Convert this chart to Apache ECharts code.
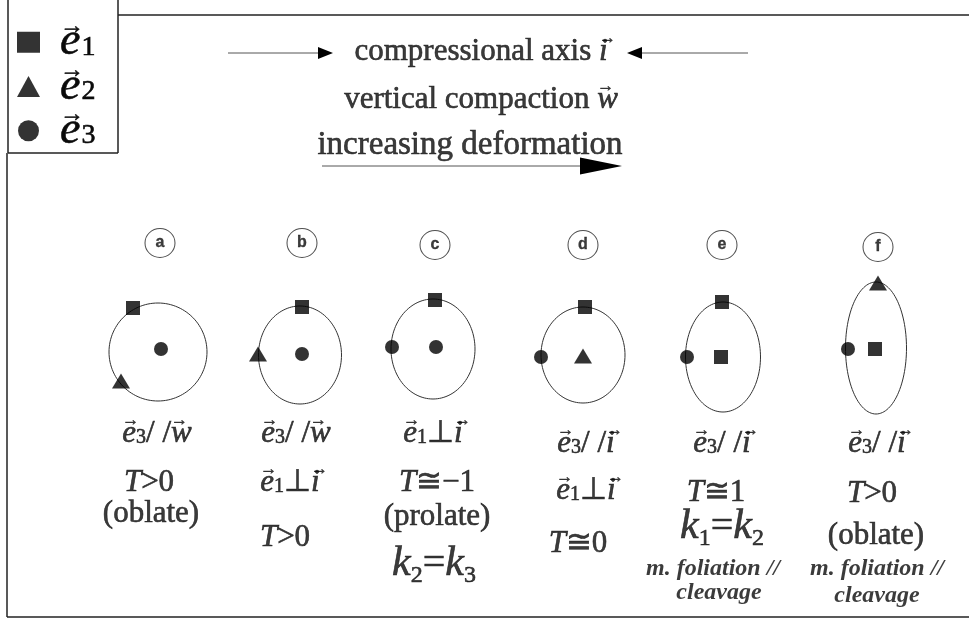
<!DOCTYPE html>
<html><head><meta charset="utf-8">
<script src="https://cdn.jsdelivr.net/npm/echarts@6/dist/echarts.min.js"></script>
<style>html,body{margin:0;padding:0;background:#fff}#main{width:969px;height:622px}</style>
</head><body><div id="main"></div>
<script>
// ---- data (diagram coordinates, origin top-left) ----
const panelLetters = ['a','b','c','d','e','f'];
const letterX = [160,302,435,583,722,878];
const letterY = [243,243,245,245,245,247];

const ellipseCX = [158,300,433,583,723,876];
const ellipseCY = [352,355,349,355,357,348];
const ellipseRX = [49,41.5,42,42,37.5,30.5];
const ellipseRY = [49,49,50,48,55,66];

const e1Points = [[133,308],[302,307],[435,300],[585,307],[722,302],[721,357],[875,349]];
const e2Points = [[121,381],[258,354],[583,356],[878,283]];
const e3Points = [[161,349],[302,354],[392,347],[436,347],[541,357],[687,357],[848,349]];

const legendNames = ['e1','e2','e3'];

const noteX = [481,481,470,
  157,149,151,
  296,290,285,
  433,437,437,434,
  586,586,578,
  722,716,722,713,719,
  877,872,876,877,877];
const noteY = [52,100,145,
  434,483,514,
  434,483,538,
  434,483,517,564,
  444,491,544,
  444,493,527,569,593,
  444,494,536,569,596];
const noteText = [
  '{n|compressional axis }{a|\u2192}{v|i}',
  '{n|vertical compaction }{a|\u2192}{v|w}',
  '{N|increasing deformation}',
  '{a|\u2192}{v|e}{s|3}{n|/ /}{a|\u2192}{v|w}', '{v|T}{n|>0}', '{n|(oblate)}',
  '{a|\u2192}{v|e}{s|3}{n|/ /}{a|\u2192}{v|w}', '{a|\u2192}{v|e}{s|1}{n|\u22A5}{a|\u2192}{v|i}', '{v|T}{n|>0}',
  '{a|\u2192}{v|e}{s|1}{n|\u22A5}{a|\u2192}{v|i}', '{v|T}{n|\u2245\u22121}', '{n|(prolate)}', '{K|k}{ks|2}{Kn|=}{K|k}{ks|3}',
  '{a|\u2192}{v|e}{s|3}{n|/ /}{a|\u2192}{v|i}', '{a|\u2192}{v|e}{s|1}{n|\u22A5}{a|\u2192}{v|i}', '{v|T}{n|\u22450}',
  '{a|\u2192}{v|e}{s|3}{n|/ /}{a|\u2192}{v|i}', '{v|T}{n|\u22451}', '{K|k}{ks|1}{Kn|=}{K|k}{ks|2}', '{f|m. foliation //}', '{f|cleavage}',
  '{a|\u2192}{v|e}{s|3}{n|/ /}{a|\u2192}{v|i}', '{v|T}{n|>0}', '{n|(oblate)}', '{f|m. foliation //}', '{f|cleavage}'
];

// arrows: start and end (head at end)
const arrowStart = [[228,53],[748,53],[322,166]];
const arrowEnd   = [[333,53],[627,53],[622,166]];
const arrowHead  = ['small','small','large'];
// frame segments
const frameStart = [[8,0],[118,0],[8,153],[7,153],[7,617],[118,15]];
const frameEnd   = [[8,153],[118,153],[118,153],[7,617],[969,617],[969,15]];

// ---- styles ----
const SERIF = 'Liberation Serif';
const INK = '#0a0a0a';
const B = {textBorderColor:INK, textBorderWidth:0.6, align:'left'};
const headSize = {small:{len:15,w:12}, large:{len:42,w:17}};
const rich = {
  n:Object.assign({fontFamily:SERIF,fontSize:31,lineHeight:34,color:INK},B),
  N:Object.assign({fontFamily:SERIF,fontSize:33,lineHeight:36,color:INK},B),
  v:Object.assign({fontFamily:SERIF,fontSize:31,lineHeight:34,fontStyle:'italic',color:INK},B),
  a:{fontFamily:SERIF,fontSize:17,lineHeight:10,width:0,align:'left',padding:[0,0,26,0],color:INK,textBorderColor:INK,textBorderWidth:0.4},
  s:Object.assign({fontFamily:SERIF,fontSize:20,lineHeight:22,color:INK,padding:[7,0,0,0]},B),
  K:Object.assign({fontFamily:SERIF,fontSize:42,lineHeight:44,fontStyle:'italic',color:INK},B),
  Kn:Object.assign({fontFamily:SERIF,fontSize:40,lineHeight:44,color:INK},B),
  ks:Object.assign({fontFamily:SERIF,fontSize:24,lineHeight:26,color:INK,padding:[24,0,0,0]},B),
  f:{fontFamily:SERIF,fontSize:24,lineHeight:26,fontStyle:'italic',fontWeight:'bold',color:INK,align:'left'}
};

const chart = echarts.init(document.getElementById('main'), null, {renderer:'canvas'});

const ellipseData = ellipseCX.map((x,i)=>[x, ellipseCY[i], ellipseRX[i], ellipseRY[i]]);
const arrowData = arrowStart.map((p,i)=>[p[0],p[1],arrowEnd[i][0],arrowEnd[i][1],i]);
const frameData = frameStart.map((p,i)=>[p[0],p[1],frameEnd[i][0],frameEnd[i][1]]);
const noteData = noteX.map((x,i)=>({value:[x,noteY[i]], name:noteText[i]}));
const letterData = panelLetters.map((l,i)=>({value:[letterX[i],letterY[i]], name:l}));

const option = {
  backgroundColor:'#fff',
  animation:false,
  grid:{left:0,right:0,top:0,bottom:0},
  xAxis:{type:'value',min:0,max:969,show:false},
  yAxis:{type:'value',min:0,max:622,inverse:true,show:false},
  legend:{
    data:legendNames, orient:'vertical', left:17, top:14, padding:0, itemGap:-12,
    itemWidth:23, itemHeight:21, selectedMode:false,
    formatter:(name)=>'{a|\u2192}{v|e}{s|'+name.slice(1)+'}',
    textStyle:{lineHeight:44, rich:{
      a:{fontFamily:SERIF,fontSize:24,lineHeight:12,width:0,align:'left',padding:[0,0,32,15],color:INK,textBorderColor:INK,textBorderWidth:0.5},
      v:Object.assign({fontFamily:SERIF,fontSize:46,lineHeight:44,fontStyle:'italic',color:INK},B),
      s:Object.assign({fontFamily:SERIF,fontSize:28,lineHeight:30,color:INK,padding:[10,0,0,1]},B)
    }}
  },
  series:[
    {type:'custom', name:'frame', silent:true, data:frameData,
     renderItem:(params,api)=>{
       const a=api.coord([api.value(0),api.value(1)]), b=api.coord([api.value(2),api.value(3)]);
       return {type:'line', shape:{x1:a[0],y1:a[1],x2:b[0],y2:b[1]}, style:{stroke:'#222',lineWidth:1.5}};
     }},
    {type:'custom', name:'arrows', silent:true, data:arrowData,
     renderItem:(params,api)=>{
       const a=api.coord([api.value(0),api.value(1)]), b=api.coord([api.value(2),api.value(3)]);
       const hs=headSize[arrowHead[api.value(4)]];
       const dx=b[0]-a[0], dy=b[1]-a[1], L=Math.hypot(dx,dy), ux=dx/L, uy=dy/L;
       const bx=b[0]-ux*hs.len, by=b[1]-uy*hs.len;
       return {type:'group', children:[
         {type:'line', shape:{x1:a[0],y1:a[1],x2:bx,y2:by}, style:{stroke:'#555',lineWidth:1}},
         {type:'polygon', shape:{points:[[b[0],b[1]],[bx-uy*hs.w/2,by+ux*hs.w/2],[bx+uy*hs.w/2,by-ux*hs.w/2]]}, style:{fill:'#000'}}
       ]};
     }},
    {type:'custom', name:'ellipses', silent:true, data:ellipseData,
     renderItem:(params,api)=>{
       const c=api.coord([api.value(0),api.value(1)]);
       const s=api.size([api.value(2),api.value(3)]);
       const pts=[];
       for(let k=0;k<120;k++){const t=k/120*Math.PI*2; pts.push([c[0]+s[0]*Math.cos(t), c[1]+s[1]*Math.sin(t)]);}
       return {type:'polygon', shape:{points:pts}, style:{fill:'none',stroke:'#333',lineWidth:1}};
     }},
    {type:'scatter', name:'letters', silent:true, data:letterData, symbol:'circle', symbolSize:[30,29],
     itemStyle:{color:'#fff',borderColor:'#222',borderWidth:1},
     label:{show:true,position:'inside',formatter:(p)=>p.name,fontFamily:'Liberation Sans',fontWeight:'bold',fontSize:16,color:INK,textBorderColor:INK,textBorderWidth:0.3}},
    {type:'scatter', name:'e1', data:e1Points, symbol:'rect', symbolSize:14, itemStyle:{color:'#000'}, z:5},
    {type:'scatter', name:'e2', data:e2Points, symbol:'triangle', symbolSize:[18,15], itemStyle:{color:'#000'}, z:5},
    {type:'scatter', name:'e3', data:e3Points, symbol:'circle', symbolSize:14, itemStyle:{color:'#000'}, z:5},
    {type:'scatter', name:'notes', silent:true, data:noteData, symbolSize:0,
     label:{show:true,position:'inside',formatter:(p)=>p.name, rich:rich}}
  ]
};
chart.setOption(option);
</script></body></html>
